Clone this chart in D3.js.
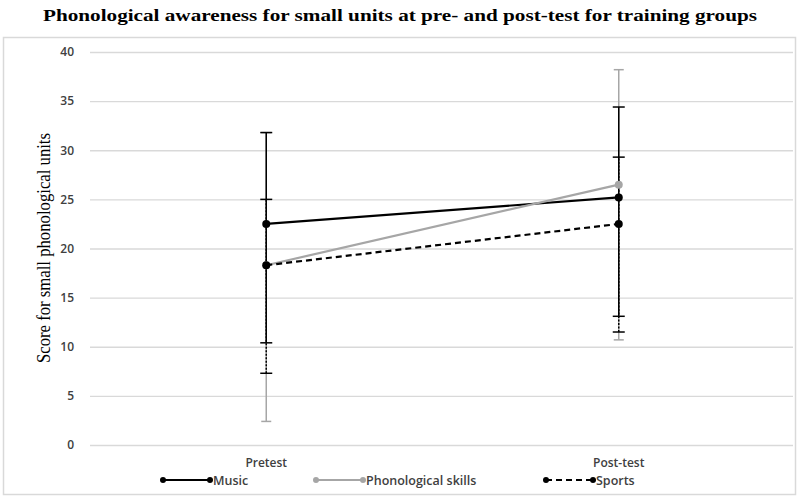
<!DOCTYPE html>
<html>
<head>
<meta charset="utf-8">
<script src="https://cdn.jsdelivr.net/npm/d3@7"></script>
<style>
  body { margin: 0; background: #fff; }
  .tick text { font-family: "Open Sans", sans-serif; font-weight: 600; font-size: 12px; fill: #404040; }
</style>
</head>
<body>
<div id="chart"></div>
<script>
// datos
const phases = ['Pretest', 'Post-test'];
const yTicks = [0, 5, 10, 15, 20, 25, 30, 35, 40];
const groupNames = ['Music', 'Phonological skills', 'Sports'];
const musicMean = [22.5, 25.2];
const musicLow = [10.4, 13.1];
const musicHigh = [31.8, 34.4];
const phonoMean = [18.3, 26.5];
const phonoLow = [2.4, 10.7];
const phonoHigh = [31.8, 38.2];
const sportsMean = [18.3, 22.5];
const sportsLow = [7.3, 11.5];
const sportsHigh = [25.0, 29.3];

const series = [
    {name: groupNames[0], mean: musicMean, low: musicLow, high: musicHigh, color: '#000', dash: null, barDash: null},
    {name: groupNames[1], mean: phonoMean, low: phonoLow, high: phonoHigh, color: '#a6a6a6', dash: null, barDash: null},
    {name: groupNames[2], mean: sportsMean, low: sportsLow, high: sportsHigh, color: '#000', dash: '6,4', barDash: '2,1.5'}
];

const W = 800, H = 504;
const margin = {top: 52, right: 5, bottom: 59, left: 90};
const width = W - margin.left - margin.right,
      height = H - margin.top - margin.bottom;

const svg = d3.select('#chart').append('svg')
    .attr('width', W).attr('height', H);

//Marco
svg.append('rect')
    .attr('x', 3.5).attr('y', 37.5)
    .attr('width', 792).attr('height', 457)
    .attr('fill', '#fff').attr('stroke', '#d9d9d9').attr('stroke-width', 1.5);

//Título
svg.append('text')
    .attr('x', W / 2).attr('y', 21)
    .attr('text-anchor', 'middle')
    .attr('font-family', 'Liberation Serif, serif')
    .attr('font-weight', 'bold')
    .attr('font-size', 17.5)
    .attr('textLength', 714)
    .attr('lengthAdjust', 'spacingAndGlyphs')
    .attr('fill', '#000')
    .text('Phonological awareness for small units at pre- and post-test for training groups');

const chart = svg.append('g')
    .attr('transform', 'translate(' + margin.left + ',' + margin.top + ')');

//Ejes
const x = d3.scaleBand().domain(phases).range([0, width]);
const y = d3.scaleLinear().domain([0, 40]).range([height, 0]);

chart.append('g')
    .attr('class', 'y-axis')
    .call(d3.axisLeft(y).tickValues(yTicks).tickSize(0).tickPadding(16))
    .call(g => g.select('.domain').remove())
    .call(g => g.selectAll('.tick line')
        .attr('x1', 0).attr('x2', width - 2)
        .attr('stroke', '#d9d9d9').attr('stroke-width', 1.3));

chart.append('g')
    .attr('class', 'x-axis')
    .attr('transform', 'translate(0,' + height + ')')
    .call(d3.axisBottom(x).tickSize(0).tickPadding(13))
    .call(g => g.select('.domain').remove());

//Título eje Y
svg.append('text')
    .attr('transform', 'translate(50,248) rotate(-90)')
    .attr('text-anchor', 'middle')
    .attr('font-family', 'Liberation Serif, serif')
    .attr('font-size', 19)
    .attr('textLength', 230)
    .attr('lengthAdjust', 'spacingAndGlyphs')
    .attr('fill', '#000')
    .text('Score for small phonological units');

const cx = d => x(d) + x.bandwidth() / 2;

//Barras de error (gris primero)
[series[1], series[0], series[2]].forEach(s => {
    const g = chart.append('g');
    const capW = s.color === '#000' ? 6 : 5;
    phases.forEach((p, i) => {
        g.append('line')
            .attr('x1', cx(p)).attr('x2', cx(p))
            .attr('y1', y(s.low[i])).attr('y2', y(s.high[i]))
            .attr('stroke', s.color).attr('stroke-width', 1.5)
            .attr('stroke-dasharray', s.barDash);
        [s.low[i], s.high[i]].forEach(v => {
            g.append('line')
                .attr('x1', cx(p) - capW).attr('x2', cx(p) + capW)
                .attr('y1', y(v)).attr('y2', y(v))
                .attr('stroke', s.color).attr('stroke-width', 1.5);
        });
    });
});

//Líneas (orden de Excel: Sports encima)
const line = d3.line()
    .x((d, i) => cx(phases[i]))
    .y(d => y(d));

series.forEach(s => {
    chart.append('path')
        .datum(s.mean)
        .attr('fill', 'none')
        .attr('stroke', s.color)
        .attr('stroke-width', 2.2)
        .attr('stroke-dasharray', s.dash)
        .attr('d', line);
    chart.selectAll(null)
        .data(s.mean)
        .enter()
        .append('circle')
        .attr('cx', (d, i) => cx(phases[i]))
        .attr('cy', d => y(d))
        .attr('r', 4)
        .attr('fill', s.color);
});

//Leyenda
const legendX = [163, 316, 546];
const legend = svg.append('g').attr('transform', 'translate(0,480)');
series.forEach((s, i) => {
    const lg = legend.append('g').attr('transform', 'translate(' + legendX[i] + ',0)');
    lg.append('line')
        .attr('x1', 0).attr('x2', 47)
        .attr('stroke', s.color).attr('stroke-width', 2.2)
        .attr('stroke-dasharray', s.dash);
    lg.selectAll('circle')
        .data([0, 47])
        .enter()
        .append('circle')
        .attr('cx', d => d).attr('cy', 0).attr('r', 3)
        .attr('fill', s.color);
    lg.append('text')
        .attr('x', 50).attr('y', 4.5)
        .attr('font-family', 'Open Sans, sans-serif')
        .attr('font-weight', 600)
        .attr('font-size', 12.5)
        .attr('fill', '#404040')
        .text(s.name);
});
</script>
</body>
</html>
